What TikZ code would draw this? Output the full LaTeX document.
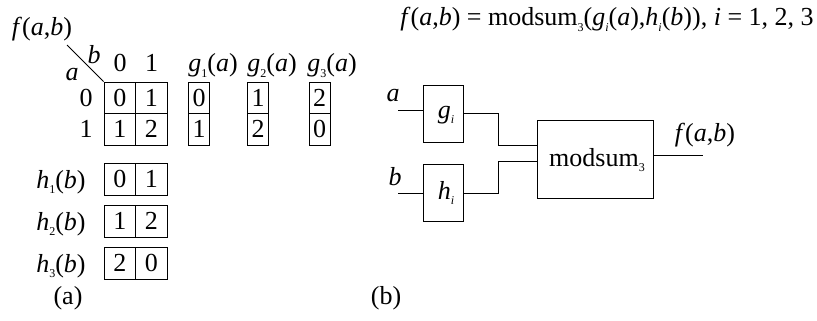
\documentclass[tikz,border=0pt]{standalone}
\usepackage{fontspec}
\setmainfont{Liberation Serif}
\newcommand{\iv}[1]{\textit{#1}}
\newcommand{\sbs}[1]{\raisebox{-0.22em}{\fontsize{12}{12}\selectfont #1}}
\newcommand{\fab}{\iv{f}(\iv{a},\iv{b})}
\begin{document}
\begin{tikzpicture}[x=1pt,y=-1pt,
  font=\fontsize{26}{30}\selectfont,
  line width=0.8pt,
  every node/.style={inner sep=0pt},
  cell/.style={draw, minimum width=31.5pt, minimum height=31.5pt},
  gcell/.style={draw, minimum width=21pt, minimum height=31.5pt},
  hcell/.style={draw, minimum width=31.5pt, minimum height=32pt},
  blk/.style={draw, inner sep=0pt}]
\useasboundingbox (0,0) rectangle (817,321);

% ---------- (a) ----------
\node (ftl) at (42,29) {\fab};
\node (lb) at (94,55) {\iv{b}};
\node (la) at (72,75) {\iv{a}};
\node[anchor=base] (hc0) at (120,72) {0};
\node[anchor=base] (hc1) at (151.5,72) {1};
\node (rl0) at (86,97.75) {0};
\node (rl1) at (86,129.25) {1};

\node[cell] (c00) at (119.75,97.75) {0};
\node[cell] (c01) at (151.25,97.75) {1};
\node[cell] (c10) at (119.75,129.25) {1};
\node[cell] (c11) at (151.25,129.25) {2};
\coordinate (dstart) at (67,45);
\draw (dstart) -- (c00.north west);

\node[anchor=base] (g1l) at (213,72) {\iv{g}\sbs{1}(\iv{a})};
\node[anchor=base] (g2l) at (272,72) {\iv{g}\sbs{2}(\iv{a})};
\node[anchor=base] (g3l) at (332,72) {\iv{g}\sbs{3}(\iv{a})};
\node[gcell] (g10) at (199,97.75) {0};
\node[gcell] (g11) at (199,129.25) {1};
\node[gcell] (g20) at (258,97.75) {1};
\node[gcell] (g21) at (258,129.25) {2};
\node[gcell] (g30) at (319.5,97.75) {2};
\node[gcell] (g31) at (319.5,129.25) {0};

\node[hcell] (h10) at (119.75,179) {0};
\node[hcell] (h11) at (151.25,179) {1};
\node[hcell] (h20) at (119.75,221) {1};
\node[hcell] (h21) at (151.25,221) {2};
\node[hcell] (h30) at (119.75,263) {2};
\node[hcell] (h31) at (151.25,263) {0};
\node[anchor=base east] (h1l) at (86,188) {\iv{h}\sbs{1}(\iv{b})};
\node[anchor=base east] (h2l) at (86,230) {\iv{h}\sbs{2}(\iv{b})};
\node[anchor=base east] (h3l) at (86,272) {\iv{h}\sbs{3}(\iv{b})};

\node (capa) at (68,298) {(a)};

% ---------- (b) ----------
\node[anchor=base west] (formula) at (400,26)
  {\fab{} = modsum\sbs{3}(\iv{g}\sbs{\iv{i}}(\iv{a}),\iv{h}\sbs{\iv{i}}(\iv{b})), \iv{i} = 1, 2, 3};

\node[blk, minimum width=40pt, minimum height=57pt] (gi) at (443,113.5) {};
\node (gitxt) at (446,115) {\iv{g}\sbs{\iv{i}}};
\node[blk, minimum width=40pt, minimum height=57pt] (hi) at (443,192.5) {};
\node (hitxt) at (446,193) {\iv{h}\sbs{\iv{i}}};
\node[blk, minimum width=116pt, minimum height=78pt] (ms) at (595,159) {};
\node (mstxt) at (597,160) {modsum\sbs{3}};

\node (ina) at (393,96) {\iv{a}};
\node (inb) at (395,177) {\iv{b}};
\coordinate (ain) at (398,110);
\coordinate (bin) at (398,193);
\draw (ain) -- (ain -| gi.west);
\draw (bin) -- (bin -| hi.west);

\coordinate (gout) at (463,113);
\coordinate (hout) at (463,193);
\draw (gout) -- (498,113) -- (498,145) -- (ms.west |- 0,145);
\draw (hout) -- (498,193) -- (498,161) -- (ms.west |- 0,161);

\coordinate (fout) at (703,155);
\draw (ms.east |- 0,155) -- (fout);
\node (fl) at (705,135) {\fab};

\node (capb) at (386,298) {(b)};
\end{tikzpicture}
\end{document}
